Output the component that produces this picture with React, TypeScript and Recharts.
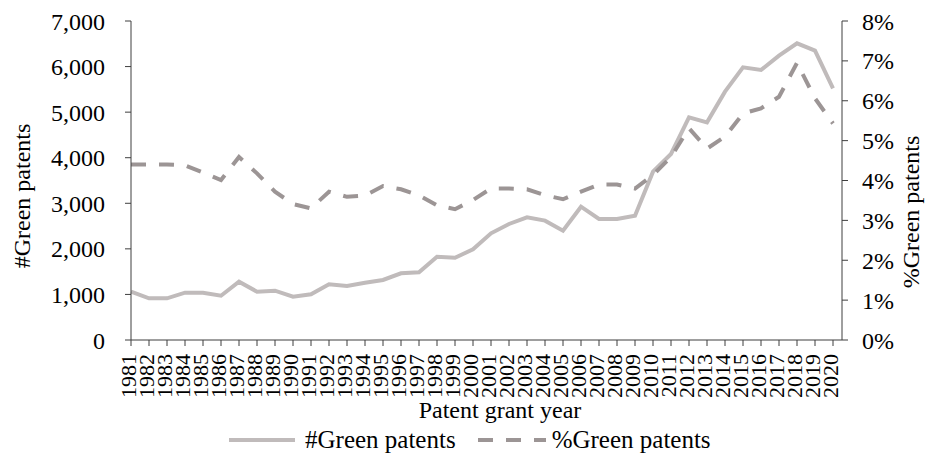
import React from 'react';
import { LineChart, Line, XAxis, YAxis, Label } from 'recharts';

// Green patents, by grant year
const years = [
  '1981', '1982', '1983', '1984', '1985', '1986', '1987', '1988', '1989', '1990',
  '1991', '1992', '1993', '1994', '1995', '1996', '1997', '1998', '1999', '2000',
  '2001', '2002', '2003', '2004', '2005', '2006', '2007', '2008', '2009', '2010',
  '2011', '2012', '2013', '2014', '2015', '2016', '2017', '2018', '2019', '2020',
];

const greenCount = [
  1060, 915, 915, 1038, 1038, 972, 1280, 1060, 1082, 950,
  1003, 1222, 1185, 1258, 1317, 1463, 1485, 1828, 1806, 1990,
  2341, 2546, 2692, 2619, 2399, 2925, 2655, 2655, 2728, 3694,
  4082, 4887, 4777, 5449, 5984, 5925, 6239, 6511, 6349, 5523,
];

const greenShare = [
  4.4, 4.4, 4.4, 4.38, 4.2, 4.01, 4.59, 4.18, 3.72, 3.41,
  3.3, 3.72, 3.59, 3.62, 3.86, 3.78, 3.63, 3.38, 3.28, 3.51,
  3.8, 3.8, 3.78, 3.63, 3.53, 3.72, 3.9, 3.9, 3.8, 4.14,
  4.59, 5.31, 4.8, 5.1, 5.68, 5.81, 6.1, 6.95, 6.06, 5.43,
];

const countTicks = [0, 1000, 2000, 3000, 4000, 5000, 6000, 7000];
const shareTicks = [0, 1, 2, 3, 4, 5, 6, 7, 8];

const data = years.map((year, i) => ({
  year,
  count: greenCount[i],
  share: greenShare[i],
}));

const FONT = '"Liberation Serif", "Times New Roman", serif';
const AXIS = '#3f3f3f';
const SOLID = '#c0bbbb';
const DASHED = '#9c9595';
const DASH = '15 13';

function YearTick({ x, y, payload }: { x?: number; y?: number; payload?: { value: string } }) {
  return (
    <text
      x={0}
      y={0}
      transform={`translate(${x! + 5}, ${y! + 6}) rotate(-90)`}
      textAnchor="end"
      fontFamily={FONT}
      fontSize={22}
      fill="#000"
    >
      {payload?.value}
    </text>
  );
}

// axis titles, placed by hand like the reference
const titleStyle = { fontFamily: FONT, fontSize: 24, fill: '#000' };

function Legend() {
  return (
    <div
      style={{
        position: 'absolute',
        left: 229,
        top: 425,
        display: 'flex',
        alignItems: 'center',
        fontFamily: FONT,
        fontSize: 25,
        lineHeight: '30px',
        color: '#000',
        whiteSpace: 'nowrap',
      }}
    >
      <svg width={68} height={10} style={{ marginRight: 8 }}>
        <line x1={0} y1={5} x2={66} y2={5} stroke={SOLID} strokeWidth={4} />
      </svg>
      <span>#Green patents</span>
      <svg width={70} height={10} style={{ marginLeft: 22, marginRight: 4 }}>
        <line x1={0} y1={5} x2={68} y2={5} stroke={DASHED} strokeWidth={4} strokeDasharray={DASH} />
      </svg>
      <span>%Green patents</span>
    </div>
  );
}

export default function App() {
  return (
    <div style={{ position: 'absolute', left: 0, top: 0, width: 927, height: 459, background: '#fff' }}>
      <LineChart
        width={927}
        height={459}
        data={data}
        margin={{ top: 21, right: 0, bottom: 39, left: 0 }}
      >
        <XAxis
          dataKey="year"
          interval={0}
          height={80}
          padding={{ left: 0, right: 9 }}
          tick={<YearTick />}
          tickSize={6}
          stroke={AXIS}
          tickLine={{ stroke: AXIS }}
        >
          <Label
            content={() => (
              <text x={500} y={418} textAnchor="middle" {...titleStyle}>
                Patent grant year
              </text>
            )}
          />
        </XAxis>
        <YAxis
          yAxisId="left"
          width={131}
          domain={[0, 7000]}
          ticks={countTicks}
          tickFormatter={(v: number) => v.toLocaleString('en-US')}
          tickSize={6}
          tickMargin={20}
          stroke={AXIS}
          tick={{ fontFamily: FONT, fontSize: 24, fill: '#000' }}
        >
          <Label
            content={() => (
              <text transform="translate(30, 196) rotate(-90)" textAnchor="middle" {...titleStyle}>
                #Green patents
              </text>
            )}
          />
        </YAxis>
        <YAxis
          yAxisId="right"
          orientation="right"
          width={85}
          domain={[0, 8]}
          ticks={shareTicks}
          tickFormatter={(v: number) => `${v}%`}
          tickSize={6}
          tickMargin={14}
          stroke={AXIS}
          tick={{ fontFamily: FONT, fontSize: 24, fill: '#000' }}
        >
          <Label
            content={() => (
              <text transform="translate(919, 212) rotate(-90)" textAnchor="middle" {...titleStyle}>
                %Green patents
              </text>
            )}
          />
        </YAxis>
        <Line
          yAxisId="left"
          dataKey="count"
          stroke={SOLID}
          strokeWidth={4}
          dot={false}
          activeDot={false}
          type="linear"
          isAnimationActive={false}
        />
        <Line
          yAxisId="right"
          dataKey="share"
          stroke={DASHED}
          strokeWidth={4}
          strokeDasharray={DASH}
          dot={false}
          activeDot={false}
          type="linear"
          isAnimationActive={false}
        />
      </LineChart>
      <Legend />
    </div>
  );
}
